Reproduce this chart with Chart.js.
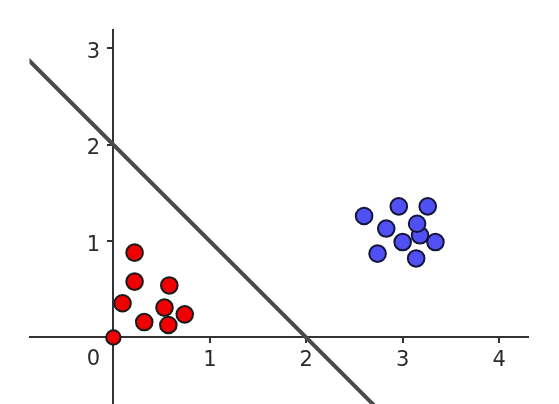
<!DOCTYPE html>
<html>
<head>
<meta charset="utf-8">
<script src="https://cdn.jsdelivr.net/npm/chart.js@4"></script>
<style>
html,body{margin:0;padding:0;background:#fff;}
#wrap{width:559px;height:404px;position:relative;}
</style>
</head>
<body>
<div id="wrap"><canvas id="c" width="559" height="404"></canvas></div>
<script>
const redX = [0.22, 0.22, 0.095, 0.32, 0.53, 0.58, 0.57, 0.74, 0.0];
const redY = [0.88, 0.58, 0.355, 0.16, 0.31, 0.54, 0.13, 0.24, 0.0];
const blueX = [2.60, 2.96, 3.26, 2.83, 3.18, 3.15, 3.00, 3.34, 2.74, 3.14];
const blueY = [1.26, 1.36, 1.36, 1.13, 1.06, 1.18, 0.99, 0.99, 0.87, 0.82];
const lineX = [-1, 3];
const lineY = [3, -1];
const xTicks = [0, 1, 2, 3, 4];
const yTicks = [1, 2, 3];

const pts = (xs, ys) => xs.map((x, i) => ({x: x, y: ys[i]}));
const redRadius = redX.map((x, i) => (x === 0 && redY[i] === 0) ? 7.2 : 8.3);
const zeroPad = (s) => { s.paddingTop = 0; s.paddingBottom = 0; s.paddingLeft = 0; s.paddingRight = 0; };

const originLabel = {
  id: 'originLabel',
  afterDraw(chart) {
    const ctx = chart.ctx;
    const xs = chart.scales.x, ys = chart.scales.y;
    ctx.save();
    ctx.font = '21px "DejaVu Sans"';
    ctx.fillStyle = '#2a2a2a';
    ctx.textAlign = 'center';
    ctx.textBaseline = 'middle';
    ctx.fillText('0', xs.getPixelForValue(0) - 20, ys.getPixelForValue(0) + 22);
    ctx.restore();
  }
};

new Chart(document.getElementById('c'), {
  type: 'scatter',
  data: {
    datasets: [
      {
        type: 'line',
        data: pts(lineX, lineY),
        borderColor: '#4a4a4a',
        borderWidth: 4,
        pointRadius: 0,
        fill: false,
        order: 3
      },
      {
        data: pts(redX, redY),
        backgroundColor: '#f00000',
        borderColor: '#1a1a1a',
        borderWidth: 2,
        pointRadius: redRadius,
        order: 1
      },
      {
        data: pts(blueX, blueY),
        backgroundColor: '#5050f5',
        borderColor: '#15153a',
        borderWidth: 2,
        pointRadius: 8.3,
        order: 2
      }
    ]
  },
  options: {
    responsive: false,
    animation: false,
    devicePixelRatio: 1,
    layout: {autoPadding: false, padding: {left: 29.5, right: 31, top: 30, bottom: 0}},
    plugins: {legend: {display: false}, tooltip: {enabled: false}},
    scales: {
      x: {
        type: 'linear',
        position: {y: 0},
        min: -0.87, max: 4.30,
        afterBuildTicks: (s) => { s.ticks = xTicks.map(v => ({value: v})); },
        afterFit: zeroPad,
        ticks: {
          callback: (v) => v === 0 ? '' : String(v),
          font: {family: 'DejaVu Sans', size: 21},
          color: '#2a2a2a',
          padding: 5,
          maxRotation: 0
        },
        grid: {drawOnChartArea: false, drawTicks: true, tickLength: 5, color: '#333', lineWidth: 2},
        border: {display: true, color: '#333', width: 2}
      },
      y: {
        type: 'linear',
        position: {x: 0},
        min: -0.69, max: 3.19,
        afterBuildTicks: (s) => { s.ticks = yTicks.map(v => ({value: v})); },
        afterFit: zeroPad,
        ticks: {
          callback: (v) => String(v) + '  ',
          font: {family: 'DejaVu Sans', size: 21},
          color: '#2a2a2a',
          labelOffset: 4
        },
        grid: {drawOnChartArea: false, drawTicks: true, tickLength: 5, color: '#333', lineWidth: 2},
        border: {display: true, color: '#333', width: 2}
      }
    }
  },
  plugins: [originLabel]
});
</script>
</body>
</html>
